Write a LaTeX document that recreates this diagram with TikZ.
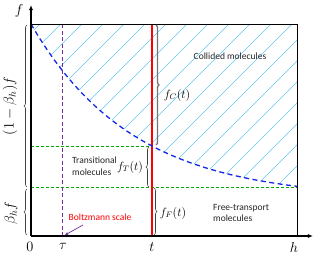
\documentclass[tikz,border=0pt]{standalone}
\usepackage[no-math]{fontspec}
\newfontfamily\calfont{Carlito}
\usetikzlibrary{decorations.pathreplacing,arrows.meta}
\definecolor{hatchc}{RGB}{100,200,240}
\definecolor{curvec}{RGB}{20,40,230}
\definecolor{purp}{RGB}{112,48,160}
\definecolor{grn}{RGB}{0,170,0}
\begin{document}
\begin{tikzpicture}[x=1pt,y=-1pt,
  txt/.style={font=\calfont\fontsize{9.5}{11.5}\selectfont, align=left, inner sep=0pt, text=black!85},
  mlab/.style={font=\fontsize{12}{14}\selectfont, inner sep=0pt},
  tlab/.style={font=\fontsize{14}{16}\selectfont, inner sep=0pt},
  brc/.style={decorate, decoration={brace, amplitude=3pt}, line width=0.6pt, black!75},
  hatch/.style={hatchc, line width=0.5pt},
  axis/.style={line width=1.6pt, -{Latex[length=5pt,width=4pt]}},
]
\useasboundingbox (0,0) rectangle (317,255);
\coordinate (O) at (31,236);
\coordinate (TL) at (31,24);
\coordinate (TR) at (297,24);
\coordinate (BR) at (297,236);
% hatching above the curve
\begin{scope}
\clip plot[domain=31:297,samples=80] (\x,{24+175*(1-exp(-0.00987*(\x-31)))}) -- (TR) -- cycle;
\foreach \c in {-260,-239,...,320} \draw[hatch] (\c,240) -- ++(240,-240);
\end{scope}
% green dashed lines
\coordinate (g1l) at (31,146); \coordinate (g1r) at (152,146);
\coordinate (g2l) at (31,187); \coordinate (g2r) at (297,187);
\draw[grn, line width=0.8pt, dash pattern=on 3pt off 2pt] (g1l) -- (g1r);
\draw[grn, line width=0.8pt, dash pattern=on 3pt off 2pt] (g2l) -- (g2r);
% tau line
\coordinate (taut) at (63,24); \coordinate (taub) at (63,236);
\draw[purp, line width=1pt, dash pattern=on 4pt off 2.5pt] (taut) -- (taub);
% t line
\coordinate (tt) at (152,24); \coordinate (tb) at (152,236);
\draw[red, line width=1.2pt] (tt) -- (tb);
% curve
\draw[curvec, line width=1.3pt, dash pattern=on 5pt off 3.5pt] plot[domain=31:297,samples=80] (\x,{24+175*(1-exp(-0.00987*(\x-31)))});
% box
\draw[line width=0.8pt] (TL) -- (TR) -- (BR);
% axes
\coordinate (ytop) at (31,5);
\coordinate (xend) at (313,236);
\draw[axis] (O) -- (ytop);
\draw[axis] (O) -- (xend);
% braces
\draw[brc] (27,187) -- (27,25);
\draw[brc] (27,235) -- (27,189);
\draw[brc, black!55, line width=1.3pt] (156,25) -- (156,145);
\draw[brc] (149,187) -- (149,147);
\draw[brc] (154,188) -- (154,235);
% axis labels
\node[tlab] (lf) at (19,11) {$f$};
\node[tlab] (l0) at (30,247) {$0$};
\node[tlab] (ltau) at (63,246) {$\tau$};
\node[tlab] (lt) at (152,247) {$t$};
\node[tlab] (lh) at (294,247) {$h$};
\node[tlab, rotate=90] (l1b) at (10,106) {$(1-\beta_h)f$};
\node[tlab, rotate=90] (lbf) at (11,213) {$\beta_h f$};
\node[mlab] (fc) at (177,95) {$f_C(t)$};
\node[mlab] (ft) at (130,167) {$f_T(t)$};
\node[mlab] (ff) at (173,213) {$f_F(t)$};
% texts
\node[txt] (coll) at (230,56) {Collided molecules};
\node[txt, anchor=west] (trans) at (72,166) {Transitional\\molecules};
\node[txt, anchor=west] (free) at (213,213) {Free-transport\\molecules};
\node[txt, text=red] (bs) at (100,217) {Boltzmann scale};
\coordinate (bsa) at (83,225);
\coordinate (taua) at (65,235);
\draw[purp, line width=0.7pt, -{Stealth[length=3.5pt,width=3pt]}] (bsa) -- (taua);
\end{tikzpicture}
\end{document}
